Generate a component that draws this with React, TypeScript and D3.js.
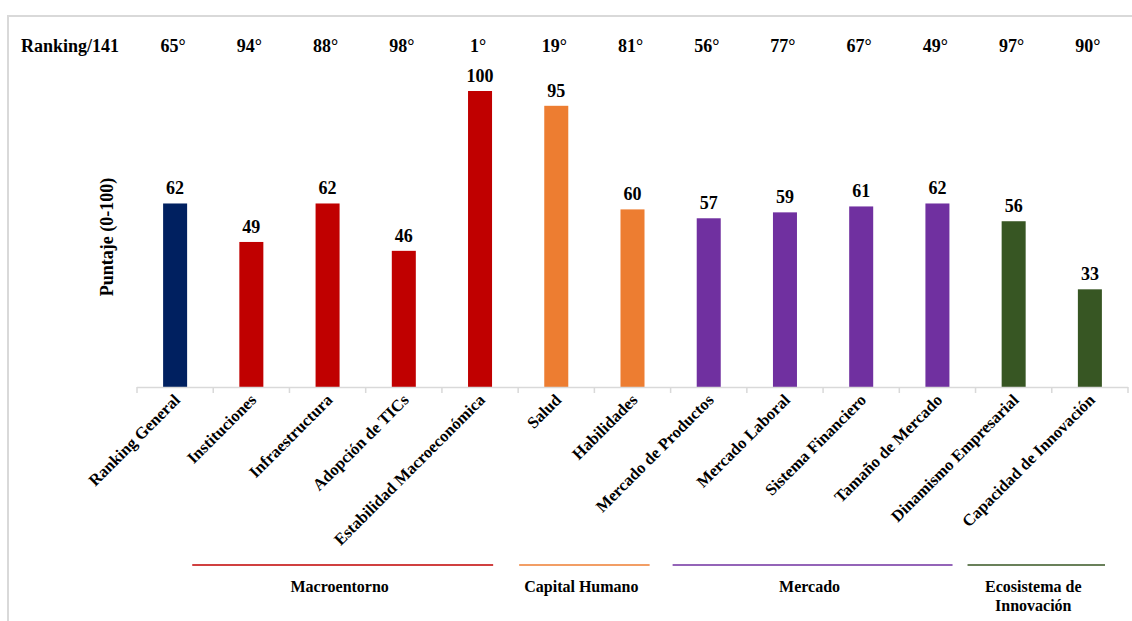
import React from "react";
import * as d3 from "d3";

const categories = [
  "Ranking General",
  "Instituciones",
  "Infraestructura",
  "Adopción de TICs",
  "Estabilidad Macroeconómica",
  "Salud",
  "Habilidades",
  "Mercado de Productos",
  "Mercado Laboral",
  "Sistema Financiero",
  "Tamaño de Mercado",
  "Dinamismo Empresarial",
  "Capacidad de Innovación",
];
const scores = [62, 49, 62, 46, 100, 95, 60, 57, 59, 61, 62, 56, 33];
const rankings = ["65°", "94°", "88°", "98°", "1°", "19°", "81°", "56°", "77°", "67°", "49°", "97°", "90°"];
const barGroup = [0, 1, 1, 1, 1, 2, 2, 3, 3, 3, 3, 4, 4];
const groupColors = ["#002060", "#c00000", "#ed7d31", "#7030a0", "#375623"];
const groupNames = ["Macroentorno", "Capital Humano", "Mercado", "Ecosistema de\nInnovación"];
const groupFirst = [1, 5, 7, 11];
const groupLast = [4, 6, 10, 12];

const W = 1132;
const H = 621;
const FONT = "'Liberation Serif', 'Times New Roman', serif";
const ts = { fontFamily: FONT, fontWeight: 700 } as React.CSSProperties;

export default function App() {
  const x = d3.scaleBand<string>().domain(categories).range([137, 1128]).paddingInner(0).paddingOuter(0);
  const y = d3.scaleLinear().domain([0, 100]).range([387, 91]);
  const bw = x.bandwidth();
  const barW = bw * 0.315;
  const startOff = [-21, 1, 2, -8];
  const endOff = [-25, -21, -23, -23];

  return (
    <svg width={W} height={H} style={{ position: "absolute", left: 0, top: 0, background: "#fff" }}>
      <rect x={8} y={16} width={1300} height={800} fill="none" stroke="#d9d9d9" strokeWidth={2} />
      <text x={21} y={52} fontSize={18} style={ts} fill="#000">Ranking/141</text>
      {rankings.map((r, i) => (
        <text key={"r" + i} x={x(categories[i])! + bw / 2 - 2} y={52} fontSize={18} style={ts} textAnchor="middle" fill="#000">{r}</text>
      ))}
      <text transform={`translate(113,237) rotate(-90)`} fontSize={18} style={ts} textAnchor="middle" fill="#000">Puntaje (0-100)</text>
      {scores.map((v, i) => {
        const cx = x(categories[i])! + bw / 2;
        return (
          <g key={"b" + i}>
            <rect x={cx - barW / 2} y={y(v)} width={barW} height={y(0) - y(v)} fill={groupColors[barGroup[i]]} />
            <text x={cx} y={y(v) - 9} fontSize={18} style={ts} textAnchor="middle" fill="#000">{v}</text>
          </g>
        );
      })}
      <line x1={137} x2={1128} y1={387.5} y2={387.5} stroke="#d9d9d9" strokeWidth={1.5} />
      {d3.range(categories.length + 1).map((i) => {
        const tx = 137 + i * bw;
        return <line key={"t" + i} x1={tx} x2={tx} y1={387} y2={393} stroke="#d9d9d9" strokeWidth={1.5} />;
      })}
      {categories.map((c, i) => {
        const cx = x(c)! + bw / 2;
        return (
          <text key={"l" + i} transform={`translate(${cx + 6},${401}) rotate(-45)`} fontSize={16.5} style={ts} textAnchor="end" fill="#000">{c}</text>
        );
      })}
      {groupNames.map((g, k) => {
        const x1 = x(categories[groupFirst[k]])! + startOff[k];
        const x2 = x(categories[groupLast[k]])! + bw + endOff[k];
        const mid = (x1 + x2) / 2 - 3;
        const lines = g.split("\n");
        return (
          <g key={"g" + k}>
            <line x1={x1} x2={x2} y1={565} y2={565} stroke={groupColors[k + 1]} strokeOpacity={0.75} strokeWidth={2} />
            {lines.map((ln, j) => (
              <text key={j} x={mid} y={592 + j * 19} fontSize={16} style={ts} textAnchor="middle" fill="#000">{ln}</text>
            ))}
          </g>
        );
      })}
    </svg>
  );
}
